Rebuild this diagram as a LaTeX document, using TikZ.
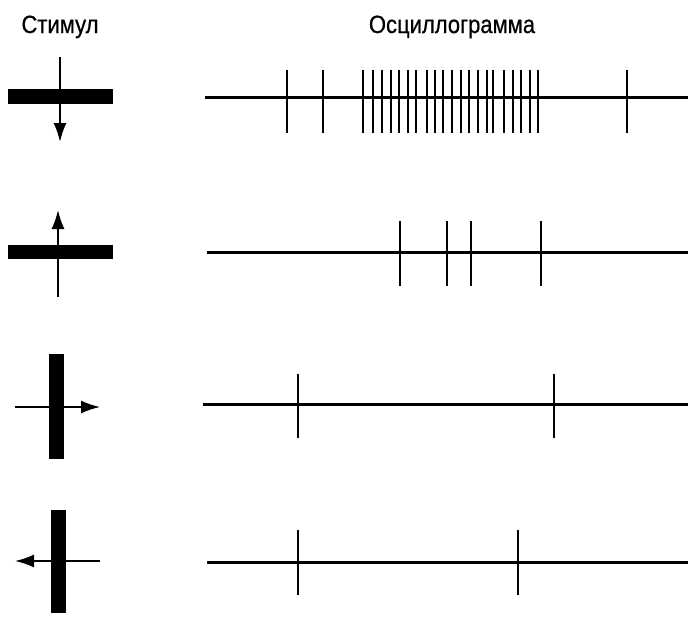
\documentclass[tikz,border=0pt]{standalone}
\usepackage{fontspec}
\setmainfont{Liberation Sans}
\newfontfamily\labelfont{Liberation Sans}[FakeBold=0.7]
\usetikzlibrary{arrows.meta}
\newcommand{\narrowtext}[1]{\scalebox{0.88}[1]{#1}}
\tikzset{
  baseline/.style={line width=3pt},
  spike/.style={line width=2pt},
  bar/.style={fill=black},
  stimarrow/.style={line width=1.8pt,-{Latex[length=19pt,width=13pt]}},
  label/.style={font=\labelfont\fontsize{25}{26}\selectfont,inner sep=0pt,anchor=base}
}
\begin{document}
\begin{tikzpicture}[x=1pt,y=-1pt]
\useasboundingbox (0,0) rectangle (688,616);
% titles
\node[label] (stim) at (60,33) {\narrowtext{Стимул}};
\node[label] (osc) at (452,33) {\narrowtext{Осциллограмма}};
% stimuli
\fill[bar] (8,89) rectangle (113,104);
\draw[stimarrow] (60,57) -- (60,142);
\fill[bar] (8,245) rectangle (113,259);
\draw[stimarrow] (58,297) -- (58,210);
\fill[bar] (49,354) rectangle (64,459);
\draw[stimarrow] (15,407) -- (100,407);
\fill[bar] (51,510) rectangle (66,613);
\draw[stimarrow] (100,561) -- (15,561);
% row 1
\draw[baseline] (205,97) -- (688,97);
\foreach \x in {287,323,363.3,373.3,381.7,390.7,399,408.3,416,426.7,435,443.3,451.7,461,469.3,477.7,486.7,493.3,504,512.7,521,530,538.3,627.3}
  \draw[spike] (\x,70) -- (\x,133);
% row 2
\draw[baseline] (207,252) -- (688,252);
\foreach \x in {400,447.3,471,540.7}
  \draw[spike] (\x,221) -- (\x,286);
% row 3
\draw[baseline] (203,404.5) -- (688,404.5);
\foreach \x in {297.7,554}
  \draw[spike] (\x,374) -- (\x,438);
% row 4
\draw[baseline] (207,562.5) -- (688,562.5);
\foreach \x in {298.3,518.3}
  \draw[spike] (\x,530) -- (\x,595);
\end{tikzpicture}
\end{document}
